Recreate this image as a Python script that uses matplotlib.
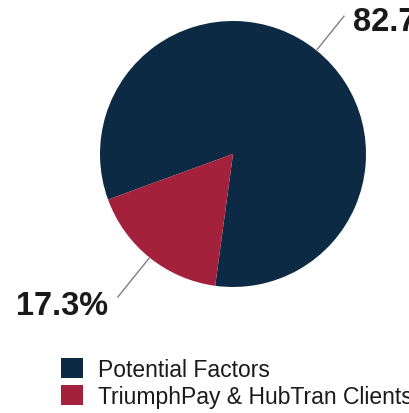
import numpy as np
import matplotlib.pyplot as plt
from matplotlib.patches import Patch

plt.rcParams['font.family'] = ['Liberation Sans', 'DejaVu Sans']

labels = ['Potential Factors', 'TriumphPay & HubTran Clients']
shares = [82.7, 17.3]
colors = ['#0c2a43', '#a3213a']

W, H = 409, 414
fig = plt.figure(figsize=(W / 100, H / 100), dpi=100)
ax = fig.add_axes([0, 0, 1, 1])

cx, cy, r = 233, H - 155, 133
wedges, _ = ax.pie(shares, colors=colors, startangle=262.3, counterclock=True,
                   radius=r, center=(cx, cy), frame=True,
                   wedgeprops=dict(linewidth=0))
ax.set_xlim(0, W)
ax.set_ylim(0, H)
ax.set_aspect('equal')
ax.axis('off')

# leader lines + percentage labels
for w, val in zip(wedges, shares):
    mid = np.deg2rad((w.theta1 + w.theta2) / 2)
    x0, y0 = cx + r * np.cos(mid), cy + r * np.sin(mid)
    if np.cos(mid) > 0:
        x1, y1 = cx + 1.33 * r * np.cos(mid), cy + 1.33 * r * np.sin(mid)
        ax.plot([x0, x1], [y0, y1], color='#7f7f7f', lw=1)
        ax.text(x1 + 9, y1 - 5, f'{val:.1f}%', ha='left', va='center',
                fontsize=23.5, fontweight='bold', color='#1a1a1a')
    else:
        x1, y1 = cx + 1.38 * r * np.cos(mid), cy + 1.38 * r * np.sin(mid)
        ax.plot([x0, x1], [y0, y1], color='#7f7f7f', lw=1)
        ax.text(x1 - 10, y1 - 9, f'{val:.1f}%', ha='right', va='center',
                fontsize=23.5, fontweight='bold', color='#1a1a1a')

handles = [Patch(facecolor=c, edgecolor='none') for c in colors]
fig.legend(handles, labels, loc='upper left', bbox_to_anchor=(52 / W, 1 - 350 / H),
           frameon=False, fontsize=16.5, handlelength=0.95, handleheight=0.95,
           handletextpad=0.65, labelspacing=0.15, borderaxespad=0, labelcolor='#1a1a1a')

fig.savefig('out.png', dpi=100)
